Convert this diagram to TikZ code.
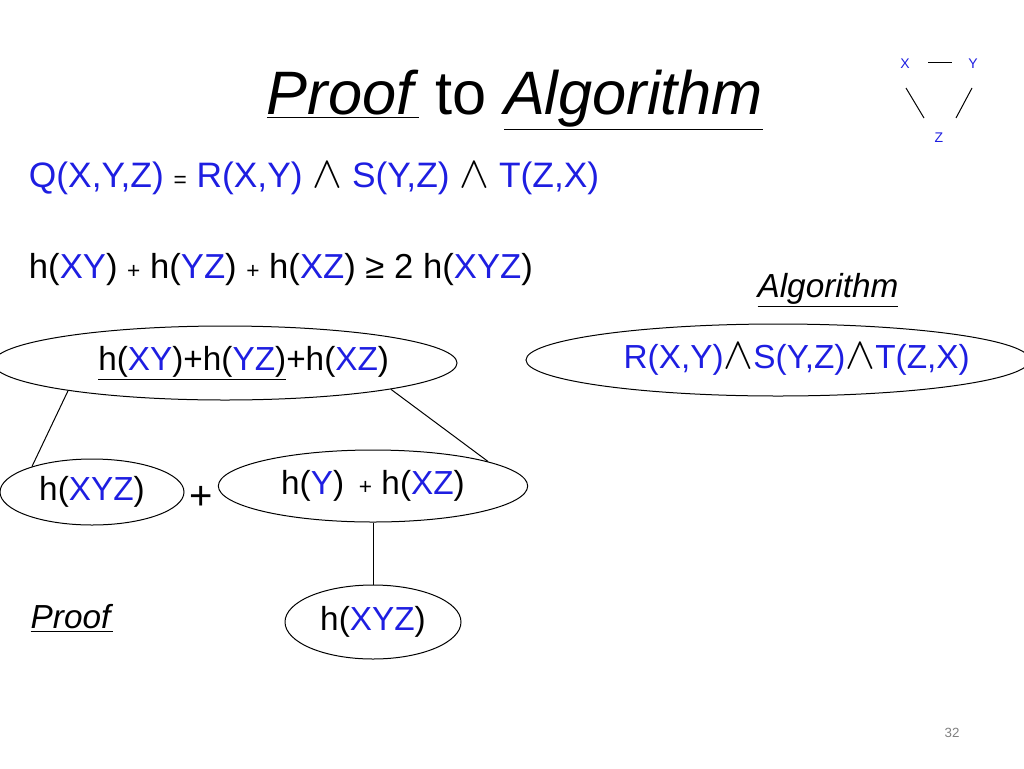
\documentclass[tikz,border=0pt]{standalone}
\usepackage{fontspec}
\setmainfont{Liberation Sans}
\usetikzlibrary{shapes.geometric}
\definecolor{vblue}{RGB}{30,30,225}
\newcommand{\bl}[1]{\textcolor{vblue}{#1}}
\newcommand{\sm}[1]{{\fontsize{17}{17}\selectfont #1}}
\newcommand{\wdg}{\textcolor{black}{\scalebox{1.35}{$\wedge$}}}
\tikzset{every picture/.style={line width=0.75pt}}
\tikzset{
  oval/.style={draw,ellipse,inner sep=0pt},
  bigtext/.style={font=\fontsize{25}{27}\selectfont},
  tinytext/.style={font=\fontsize{10.5}{12}\selectfont,text=vblue}
}
\begin{document}
\begin{tikzpicture}[x=0.75pt,y=0.75pt,yscale=-1,xscale=1]
  \useasboundingbox (0,0) rectangle (1024,768);
  \clip (0,0) rectangle (1024,768);

  %Title
  \node[font=\fontsize{46}{50}\selectfont] (title) at (515,100) {\underline{\textit{Proof}} to \underline{\textit{Algorithm}}};
  %Triangle query
  \node[tinytext] (vx) at (905,64) {X};
  \node[tinytext] (vy) at (973,64) {Y};
  \node[tinytext] (vz) at (939,138) {Z};
  \draw (928,62) -- (952,62);
  \draw (906,88) -- (924,118);
  \draw (972,88) -- (956,118);

  %Formulas
  \node[font=\fontsize{26.5}{28}\selectfont,anchor=west] (query) at (24,178) {\bl{Q(X,Y,Z)} \sm{=} \bl{R(X,Y)} \wdg{} \bl{S(Y,Z)} \wdg{} \bl{T(Z,X)}};
  \node[font=\fontsize{26}{28}\selectfont,anchor=west] (ineq) at (24,270) {h(\bl{XY}) \sm{+} h(\bl{YZ}) \sm{+} h(\bl{XZ}) ≥ 2 h(\bl{XYZ})};
  \node[font=\fontsize{25}{27}\selectfont] (alglab) at (828,290) {\underline{\textit{Algorithm}}};
  \node[font=\fontsize{25}{27}\selectfont] (prooflab) at (72,618) {\underline{\textit{Proof}}};

  %Ovals
  \node[oval,bigtext,minimum width=318pt,minimum height=55.5pt] (sum) at (225,363) {\hspace*{28pt}\underline{h(\bl{XY})+h(\bl{YZ})}+h(\bl{XZ})};
  \node[oval,bigtext,minimum width=378pt,minimum height=54pt,text=vblue] (join) at (778,360) {R(X,Y)\wdg{}S(Y,Z)\wdg{}T(Z,X)\hspace*{-28pt}};
  \node[oval,bigtext,minimum width=138pt,minimum height=49.5pt] (xyza) at (92,492) {h(\bl{XYZ})};
  \node[font=\fontsize{30}{32}\selectfont] (plus) at (201,498) {+};
  \node[oval,bigtext,minimum width=232pt,minimum height=54pt] (yxz) at (373,486) {h(\bl{Y})\, \sm{+} h(\bl{XZ})};
  \node[oval,bigtext,minimum width=132pt,minimum height=55.5pt] (xyzb) at (373,622) {h(\bl{XYZ})};

  %Connectors
  \draw (sum.190) -- (xyza.157);
  \draw (sum.351) -- (yxz.12);
  \draw (yxz.south) -- (xyzb.north);

  \node[font=\fontsize{10}{12}\selectfont,text=gray] (page) at (952,733) {32};
\end{tikzpicture}
\end{document}
